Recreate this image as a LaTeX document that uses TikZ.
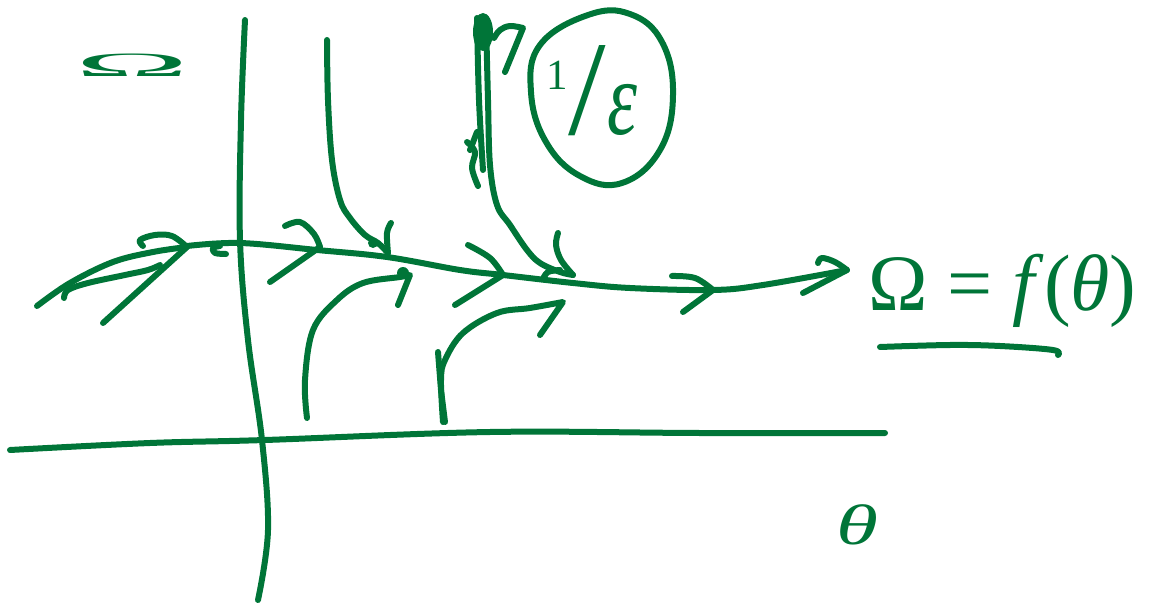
\documentclass[tikz,border=0pt]{standalone}
\usepackage{fontspec}
\setmainfont{Liberation Serif}
\usepackage{graphicx}
\definecolor{ink}{RGB}{0,117,56}
\tikzset{
  ink/.style={draw=ink, line width=6pt, line cap=round, line join=round},
  blob/.style={fill=ink},
  lbl/.style={text=ink, inner sep=0pt, outer sep=0pt}
}
\begin{document}
\begin{tikzpicture}[x=1pt,y=-1pt]
\useasboundingbox (0,0) rectangle (1149,607);
% axes
\draw[ink] plot[smooth,tension=0.6] coordinates {(245,20) (241,120) (240,240) (248,340) (262,440) (268,530) (258,600)};
\draw[ink] plot[smooth,tension=0.6] coordinates {(10,450) (150,443) (265,440) (490,432) (700,433) (885,433)};
% main curve Omega = f(theta)
\draw[ink] plot[smooth,tension=0.6] coordinates {(187,246) (240,243) (317,250) (387,257) (460,270) (503,275) (573,283) (630,288) (713,290) (763,285) (847,270)};
\draw[ink] plot[smooth,tension=0.6] coordinates {(818,263) (822,258) (835,262) (847,270)} -- (803,293);
% chevrons along main curve
\draw[ink] plot[smooth,tension=0.6] coordinates {(285,226) (300,222) (314,234) (320,247)} -- (270,282);
\draw[ink] plot[smooth,tension=0.6] coordinates {(468,245) (490,258) (503,275)} -- (455,305);
\draw[ink] plot[smooth,tension=0.6] coordinates {(672,276) (695,278) (713,290)} -- (683,312);
% leftmost streamline
\draw[ink] plot[smooth,tension=0.6] coordinates {(37,306) (70,283) (113,262) (153,252) (187,247)};
\draw[ink] plot[smooth,tension=0.6] coordinates {(143,246) (140,240) (155,235) (172,236) (187,247)} -- (103,323);
\draw[ink] plot[smooth,tension=0.6] coordinates {(64,298) (68,290) (88,283) (125,275) (148,270) (160,265)};
\draw[ink] plot[smooth,tension=0.6] coordinates {(226,254) (215,253) (213,248) (220,246)};
% streamline A from top
\draw[ink] plot[smooth,tension=0.6] coordinates {(327,40) (328,100) (332,160) (340,200) (350,218) (365,235) (378,243) (388,253)};
\draw[ink] plot[smooth,tension=0.6] coordinates {(391,223) (387,233) (388,253)};
\fill[blob] (373,243) circle (5);
% streamline B from top
\draw[ink] plot[smooth,tension=0.6] coordinates {(477,18) (479,100) (483,170)};
\draw[ink] plot[smooth,tension=0.6] coordinates {(486,20) (488,100) (490,165) (497,205) (510,225) (527,250) (540,263) (560,272) (573,275)};
\draw[ink] plot[smooth,tension=0.6] coordinates {(558,233) (556,245) (561,260) (573,275)};
\draw[ink] plot[smooth,tension=0.6] coordinates {(543,279) (548,272) (560,270)};
\fill[blob] (483,32) ellipse (10 and 19);
\draw[ink] plot[smooth,tension=0.6] coordinates {(494,38) (500,30) (510,26) (523,28)} -- (505,72);
\draw[ink] (470,150) -- (477,132);
\draw[ink] plot[smooth,tension=0.6] coordinates {(467,142) (475,152) (472,168) (478,186)};
% streamline C from bottom
\draw[ink] plot[smooth,tension=0.6] coordinates {(307,418) (305,380) (313,330) (337,300) (363,283) (400,277) (410,275)} -- (398,305);
\fill[blob] (403,273) circle (6);
% streamline D from bottom
\draw[ink] plot[smooth,tension=0.6] coordinates {(443,422) (441,380) (445,360) (463,333) (497,313) (530,308) (563,302)} -- (540,335);
\draw[ink] (438,352) -- (441,390) -- (445,422);
% circled 1/epsilon
\draw[ink] plot[smooth cycle,tension=0.7] coordinates {(540,45) (588,15) (630,14) (662,42) (673,95) (660,150) (622,183) (580,176) (546,142) (531,92)};
\node[lbl, anchor=base west] (eps) at (546,135) {\raisebox{45pt}{\fontsize{43}{43}\selectfont 1}\kern1pt{\fontsize{135}{135}\selectfont/}\kern1pt\scalebox{1}[1.4]{\fontsize{76}{76}\selectfont\itshape ε}};
% labels
\node[lbl, anchor=base] (omega) at (132,77) {\fontsize{34}{34}\selectfont\scalebox{4.5}[1]{Ω}};
\node[lbl, anchor=base west] (eq) at (868,310) {\fontsize{80}{80}\selectfont Ω = \textit{f}(\textit{θ})};
\draw[ink] plot[smooth,tension=0.6] coordinates {(880,347) (950,345) (1000,346) (1053,350) (1058,355)};
\node[lbl] (theta) at (857,525) {\fontsize{57}{57}\selectfont\scalebox{1.5}[1]{\itshape θ}};
\end{tikzpicture}
\end{document}
